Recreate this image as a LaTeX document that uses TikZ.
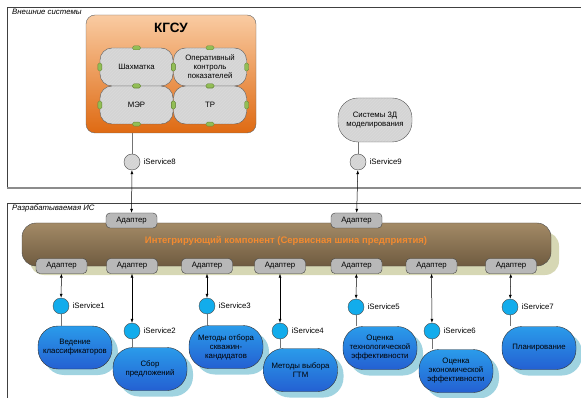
\documentclass[tikz,border=0pt]{standalone}
\usepackage{fontspec}
\setmainfont{Liberation Sans}
\usetikzlibrary{patterns,shadows,arrows.meta}

\definecolor{krug}{HTML}{12ACEC}
\definecolor{modverh}{HTML}{2A9BEA}
\definecolor{modniz}{HTML}{2460D2}
\definecolor{modten}{HTML}{9FD3E0}
\definecolor{shinaverh}{HTML}{A38A66}
\definecolor{shinaniz}{HTML}{6F5B40}
\definecolor{shinaten}{HTML}{D6D7B4}
\definecolor{shinatekst}{HTML}{F28A30}
\definecolor{kgsuverh}{HTML}{F9CBA2}
\definecolor{kgsuniz}{HTML}{DF6A12}
\definecolor{zelen}{HTML}{92BE55}

\newcommand{\melko}{\fontsize{7.8}{9}\selectfont}

\tikzset{
  ramka/.style={draw=black!75, line width=0.6pt},
  zagolovok/.style={anchor=west, inner sep=0pt, font=\melko\itshape},
  shtrih/.style={preaction={fill=black!17}, pattern=north east lines, pattern color=white!85!black},
  podsistema/.style={shtrih, draw=black!65, rounded corners=12pt, minimum width=73pt, minimum height=38pt, inner sep=0pt, align=center, font=\melko},
  zelport/.style={fill=zelen, draw=zelen!70!black, rounded corners=1.5pt, inner sep=0pt},
  adapter/.style={draw=black!75, fill=black!28, rounded corners=4pt, minimum width=51pt, minimum height=15pt, inner sep=0pt, font=\melko},
  port/.style={circle, draw=black!70, minimum size=16pt, inner sep=0pt, label distance=1pt},
  every label/.style={font=\melko},
  vneshport/.style={port, shtrih},
  vnutrport/.style={port, fill=krug},
  modul/.style={draw=black!80, rounded corners=20pt, minimum width=74pt, minimum height=43pt, inner sep=0pt,
    top color=modverh, bottom color=modniz, align=center, font=\melko,
    drop shadow={shadow xshift=6pt, shadow yshift=-6pt, fill=modten, opacity=1}},
  svyaz/.style={draw=black!55, line width=0.6pt},
  strelka/.style={draw=black, line width=0.5pt, {Latex[length=4pt,width=3pt]}-{Latex[length=4pt,width=3pt]}}
}

\begin{document}
\begin{tikzpicture}[x=1pt,y=-1pt]
\useasboundingbox (0,0) rectangle (581,398);

% Внешние системы
\draw[ramka] (590,7) -- (7,7) -- (7,188);
\draw[black!45, line width=1.4pt] (7,188) -- (590,188);
\node[zagolovok] (vneshnie) at (12,12) {Внешние системы};

% КГСУ
\node[draw=black!60, rounded corners=9pt, minimum width=170pt, minimum height=118pt,
      top color=kgsuverh, bottom color=kgsuniz] (kgsu) at (171,74) {};
\node[font=\fontsize{13.5}{15}\selectfont\bfseries] (kgsutitle) at (171,28) {КГСУ};
\node[podsistema] (shah) at (136.5,67) {Шахматка};
\node[podsistema] (oper) at (210,67) {Оперативный\\контроль\\показателей};
\node[podsistema] (mer) at (136.5,105) {МЭР};
\node[podsistema] (tr) at (210,105) {ТР};
\foreach \b in {shah,oper,mer,tr}{
  \foreach \a in {north,south}
    \node[zelport, minimum width=8pt, minimum height=4pt] (\b-\a) at (\b.\a) {};
  \foreach \a in {east,west}
    \node[zelport, minimum width=4pt, minimum height=8pt] (\b-\a) at (\b.\a) {};
}

% Системы 3Д моделирования
\node[podsistema, rounded corners=20pt, minimum width=74pt, minimum height=44pt] (sys3d) at (375,120) {Системы 3Д\\моделирования};

% Внешние сервисы
\node[vneshport, label=right:iService8] (s8) at (132,162) {};
\node[vneshport, label=right:iService9] (s9) at (358,162) {};
\draw[svyaz] (s8 |- kgsu.south) -- (s8);
\draw[svyaz] (s9 |- sys3d.south) -- (s9);

% Разрабатываемая ИС
\draw[ramka] (590,203) -- (7,203) -- (7,405);
\node[zagolovok] (razrab) at (12,208) {Разрабатываемая ИС};

% Шина
\node[draw=black!70, rounded corners=14pt, minimum width=529pt, minimum height=43pt,
      top color=shinaverh, bottom color=shinaniz,
      drop shadow={shadow xshift=8pt, shadow yshift=-9pt, fill=shinaten, opacity=1}] (shina) at (286.5,244.5) {};
\node[text=shinatekst, font=\fontsize{9.5}{11}\selectfont\bfseries] (shinatitle) at (286,241) {Интегрирующий компонент (Сервисная шина предприятия)};

% Адаптеры
\node[adapter] (av1) at (131.5,220.5) {Адаптер};
\node[adapter] (av2) at (356.5,220.5) {Адаптер};
\foreach \i/\x in {1/61.5,2/132,3/207,4/280,5/356.5,6/431.5,7/511}
  \node[adapter] (a\i) at (\x,266) {Адаптер};

\draw[strelka] (av1) -- (s8);
\draw[strelka] (av2) -- (s9);

% Сервисы и модули
\foreach \i/\x/\y in {1/61/306,2/132/331,3/207/306,4/280/331,5/356/307,6/432/331,7/510/307}{
  \node[vnutrport, label=right:iService\i] (c\i) at (\x,\y) {};
  \draw[strelka] (a\i) -- (c\i);
}
\node[modul] (m1) at (75,347.5) {Ведение\\классификаторов};
\node[modul] (m2) at (150,369) {Сбор\\предложений};
\node[modul] (m3) at (226,347) {Методы отбора\\скважин-\\кандидатов};
\node[modul] (m4) at (300.5,370) {Методы выбора\\ГТМ};
\node[modul] (m5) at (380,348) {Оценка\\технологической\\эффективности};
\node[modul] (m6) at (456,371) {Оценка\\экономической\\эффективности};
\node[modul] (m7) at (539,348) {Планирование};
\foreach \i in {1,...,7}
  \draw[svyaz] (c\i) -- (c\i |- m\i.north);

\end{tikzpicture}
\end{document}
